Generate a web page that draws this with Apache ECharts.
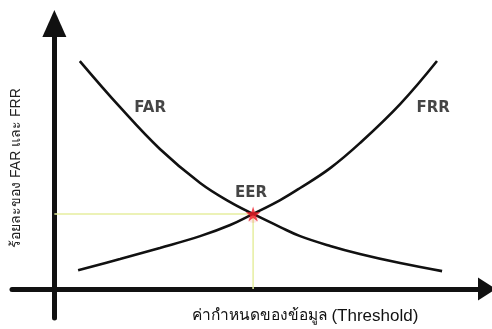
<!DOCTYPE html>
<html>
<head>
<meta charset="utf-8">
<script src="https://cdn.jsdelivr.net/npm/echarts@6/dist/echarts.min.js"></script>
<style>
  html, body { margin: 0; padding: 0; background: #ffffff; }
  #chart { width: 492px; height: 329px; }
</style>
</head>
<body>
<div id="chart"></div>
<script>
// Threshold positions and error rates (%) for the two curves
const farThreshold = [6.0, 15.5, 24.9, 34.4, 41.5, 46.9, 53.3, 58.0, 65.1, 72.1, 81.6, 91.5];
const farRate      = [90.5, 72.2, 55.6, 42.1, 34.5, 29.8, 24.6, 21.0, 17.1, 13.9, 10.3, 7.1];
const frrThreshold = [5.6, 15.5, 24.9, 34.4, 41.5, 46.9, 53.3, 58.0, 65.1, 72.1, 81.6, 90.3];
const frrRate      = [7.5, 11.9, 16.3, 21.0, 25.4, 29.8, 35.3, 40.1, 48.0, 57.9, 73.4, 90.5];

// Equal error rate: where FAR and FRR cross
const eerThreshold = 46.9;
const eerRate = 29.8;

// Curve names and axis titles
const curveNames = ['FAR', 'FRR', 'EER'];
const xTitleThai = 'ค่ากำหนดของข้อมูล';
const xTitleLatin = ' (Threshold)';
const yTitle = 'ร้อยละของ FAR และ FRR';

const pairs = (xs, ys) => xs.map((x, i) => [x, ys[i]]);

const STAR = 'path://M50,0 L61.2,34.5 L97.6,34.5 L68.2,55.9 L79.4,90.5 L50,69.1 L20.6,90.5 L31.8,55.9 L2.4,34.5 L38.8,34.5 Z';
const ink = '#111111';
const guide = '#e6eea0';
const labelFont = { fontFamily: '"DejaVu Sans", sans-serif', fontWeight: 'bold', fontSize: 15, color: '#161616' };
const titleFamily = '"Liberation Sans", "Noto Sans", sans-serif';

const chart = echarts.init(document.getElementById('chart'), null, { renderer: 'canvas' });

chart.setOption({
  animation: false,
  backgroundColor: '#ffffff',
  grid: { left: 12, right: 5, top: 23.5, bottom: 11, containLabel: false },
  xAxis: {
    type: 'value', min: -10, max: 102.1,
    axisLine: { show: true, onZero: true, lineStyle: { color: ink, width: 5 },
      symbol: ['none', 'triangle'], symbolSize: [23, 18] },
    axisTick: { show: false }, axisLabel: { show: false }, splitLine: { show: false }
  },
  yAxis: {
    type: 'value', min: -11.5, max: 105.4,
    axisLine: { show: true, onZero: true, lineStyle: { color: ink, width: 5 },
      symbol: ['none', 'triangle'], symbolSize: [24, 27] },
    axisTick: { show: false }, axisLabel: { show: false }, splitLine: { show: false }
  },
  series: [
    {
      name: 'guides', type: 'line', silent: true, symbol: 'none', z: 1,
      lineStyle: { color: guide, width: 1.5 },
      data: [[0, eerRate], [eerThreshold, eerRate], [eerThreshold, 0]]
    },
    {
      name: curveNames[0], type: 'line', smooth: 0.4, symbol: 'none', z: 3,
      lineStyle: { color: ink, width: 2.6 },
      data: pairs(farThreshold, farRate)
    },
    {
      name: curveNames[1], type: 'line', smooth: 0.4, symbol: 'none', z: 3,
      lineStyle: { color: ink, width: 2.6 },
      data: pairs(frrThreshold, frrRate)
    },
    {
      // faint halo under the crossing point
      name: 'EER halo', type: 'scatter', z: 4, silent: true,
      symbol: 'circle', symbolSize: 12, symbolOffset: [0, 3],
      itemStyle: { color: 'rgba(238, 28, 37, 0.15)' },
      data: [[eerThreshold, eerRate]]
    },
    {
      name: 'EER', type: 'scatter', z: 5,
      symbol: STAR, symbolSize: 15,
      itemStyle: { color: '#ee1c25' },
      data: [[eerThreshold, eerRate]]
    },
    {
      name: 'labels', type: 'scatter', symbolSize: 0, z: 6,
      label: Object.assign({ show: true, position: 'inside', formatter: p => p.name }, labelFont),
      data: [
        { name: curveNames[0], value: [22.6, 71.8] },
        { name: curveNames[1], value: [89.4, 71.8] },
        { name: curveNames[2], value: [46.4, 38.1] }
      ]
    }
  ],
  graphic: [
    {
      type: 'text', x: 305, y: 316,
      style: {
        text: '{th|' + xTitleThai + '}{en|' + xTitleLatin + '}',
        align: 'center', verticalAlign: 'middle',
        rich: {
          th: { fontSize: 15.5, fontFamily: titleFamily, fill: '#111' },
          en: { fontSize: 17, fontFamily: titleFamily, fill: '#111' }
        }
      }
    },
    {
      type: 'text', x: 16, y: 168, rotation: Math.PI / 2,
      style: { text: yTitle, fontSize: 14, fontFamily: titleFamily,
        fill: '#222', align: 'center', verticalAlign: 'middle' }
    }
  ]
});
</script>
</body>
</html>
